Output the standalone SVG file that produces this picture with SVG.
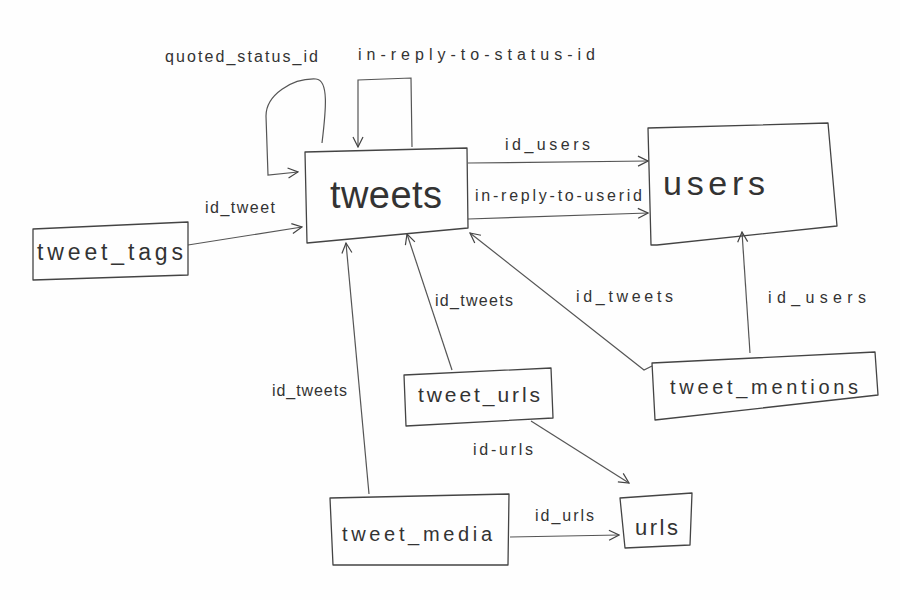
<svg xmlns="http://www.w3.org/2000/svg" width="900" height="600" viewBox="0 0 900 600">
<defs>
<marker id="arr" viewBox="0 0 12 12" refX="11" refY="6" markerWidth="12" markerHeight="12" markerUnits="userSpaceOnUse" orient="auto">
<path d="M1,1 L11,6 L1,11" fill="none" stroke="#444" stroke-width="1.2"/>
</marker>
<style>
.box{fill:none;stroke:#444;stroke-width:1.3;stroke-linejoin:round}
.edge{fill:none;stroke:#555;stroke-width:1.2;marker-end:url(#arr)}
.name{font-family:"Liberation Sans","DejaVu Sans",sans-serif;fill:#333;text-anchor:start}
.lbl{font-family:"Liberation Sans","DejaVu Sans",sans-serif;fill:#333;font-size:16px}
</style>
</defs>
<rect width="900" height="600" fill="#fefefe"/>

<g id="connectors">
<path class="edge" d="M322,143 C326,110 329,80 316,79 C292,78 266,95 266,116 L268,175 L298,172"/>
<path class="edge" d="M412,147 L411,78 L358,80 L358,147"/>
<path class="edge" d="M188,245 L302,227"/>
<path class="edge" d="M468,163 L648,161"/>
<path class="edge" d="M468,219 L648,213"/>
<path class="edge" d="M452,370 L407,234"/>
<path class="edge" d="M369,494 L346,243"/>
<path class="edge" d="M652,366 L644,370 L470,233"/>
<path class="edge" d="M750,353 L742,232"/>
<path class="edge" d="M531,421 L629,483"/>
<path class="edge" d="M510,537 L619,535"/>
<text class="lbl" x="165" y="62" textLength="153" lengthAdjust="spacing">quoted_status_id</text>
<text class="lbl" x="358" y="60" font-size="18" textLength="237" lengthAdjust="spacing">in-reply-to-status-id</text>
<text class="lbl" x="205" y="213" textLength="70" lengthAdjust="spacing">id_tweet</text>
<text class="lbl" x="505" y="150" font-size="17" textLength="85" lengthAdjust="spacing">id_users</text>
<text class="lbl" x="475" y="201" textLength="167" lengthAdjust="spacing">in-reply-to-userid</text>
<text class="lbl" x="435" y="306" textLength="78" lengthAdjust="spacing">id_tweets</text>
<text class="lbl" x="576" y="302" font-size="17" textLength="97" lengthAdjust="spacing">id_tweets</text>
<text class="lbl" x="272" y="396" textLength="75" lengthAdjust="spacing">id_tweets</text>
<text class="lbl" x="768" y="303" font-size="18" textLength="98" lengthAdjust="spacing">id_users</text>
<text class="lbl" x="473" y="455" textLength="60" lengthAdjust="spacing">id-urls</text>
<text class="lbl" x="535" y="521" textLength="59" lengthAdjust="spacing">id_urls</text>
</g>

<g id="tweets">
<polygon class="box" points="305,152 467,148 468,228 307,243"/>
<text class="name" x="330" y="208" font-size="38" textLength="112" lengthAdjust="spacing">tweets</text>
</g>
<g id="users">
<polygon class="box" points="648,128 828,123 837,226 657,245 651,245"/>
<text class="name" x="663" y="195" font-size="34" textLength="102" lengthAdjust="spacing">users</text>
</g>
<g id="tweet_tags">
<polygon class="box" points="33,229 188,222 188,275 33,280"/>
<text class="name" x="37" y="260" font-size="23" textLength="146" lengthAdjust="spacing">tweet_tags</text>
</g>
<g id="tweet_urls">
<polygon class="box" points="404,375 551,368 553,418 406,426"/>
<text class="name" x="418" y="402" font-size="21" textLength="122" lengthAdjust="spacing">tweet_urls</text>
</g>
<g id="tweet_mentions">
<polygon class="box" points="652,363 875,352 878,395 655,420"/>
<text class="name" x="670" y="394" font-size="20" textLength="188" lengthAdjust="spacing">tweet_mentions</text>
</g>
<g id="tweet_media">
<polygon class="box" points="330,498 509,494 508,565 333,565"/>
<text class="name" x="342" y="541" font-size="20" textLength="150" lengthAdjust="spacing">tweet_media</text>
</g>
<g id="urls">
<polygon class="box" points="620,498 692,493 690,545 625,548"/>
<text class="name" x="635" y="535" font-size="22" textLength="43" lengthAdjust="spacing">urls</text>
</g>
</svg>
